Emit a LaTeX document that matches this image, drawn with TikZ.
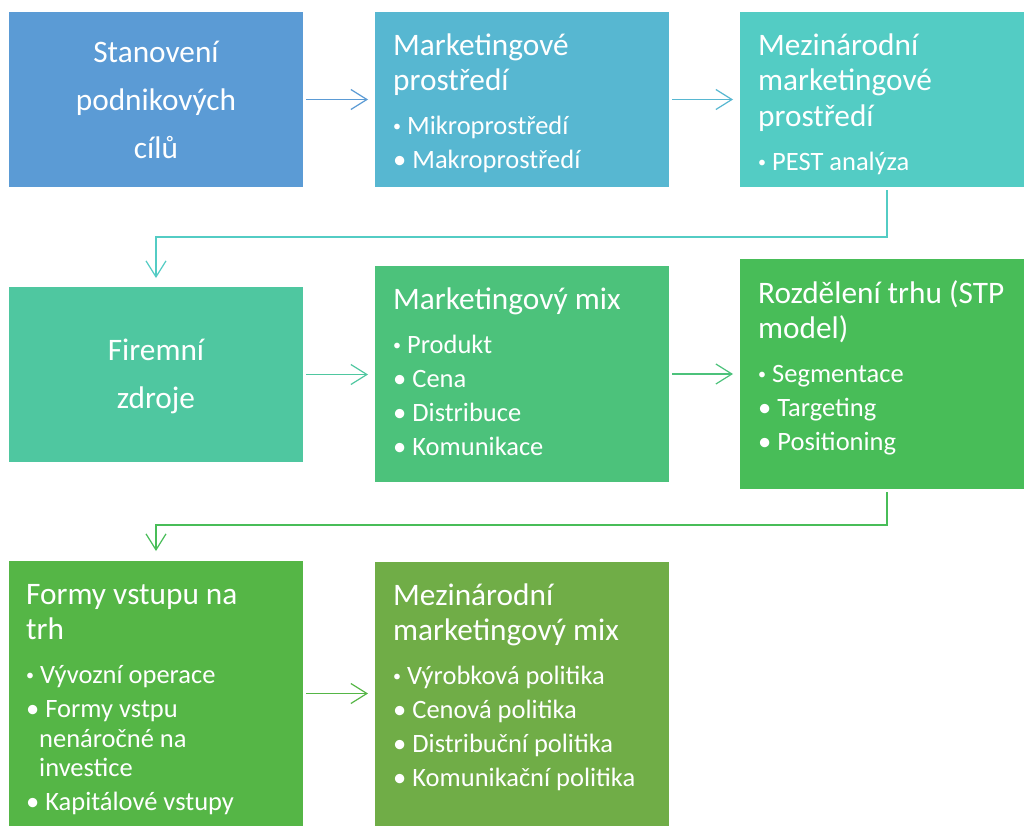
\documentclass[tikz,border=0pt]{standalone}
\usepackage{fontspec}
\setmainfont{Carlito}
\usetikzlibrary{arrows.meta,calc}
\definecolor{c1}{RGB}{91,155,213}
\definecolor{c2}{RGB}{87,183,209}
\definecolor{c3}{RGB}{83,204,196}
\definecolor{c4}{RGB}{79,199,160}
\definecolor{c5}{RGB}{76,194,123}
\definecolor{c6}{RGB}{72,189,88}
\definecolor{c7}{RGB}{85,182,70}
\definecolor{c8}{RGB}{112,173,71}
\newcommand\ttlfont{\fontsize{31.3}{35.5}\selectfont}
\newcommand\ctrfont{\fontsize{31.3}{48}\selectfont}
\newcommand\itemlist{\par\vspace{10pt}\fontsize{26.5}{29.5}\selectfont\setlength{\parskip}{4.5pt}}
\newcommand\firstitem[1]{\par\hangindent=13pt\hangafter=1 \raisebox{3pt}{\fontsize{16}{16}\selectfont •}\ #1\par}
\newcommand\nextitem[1]{\par\hangindent=13pt\hangafter=1 •\ #1\par}
\tikzset{
  box/.style={anchor=north west, inner sep=0pt, outer sep=0pt, minimum width=294pt},
  lefttext/.style={anchor=base west, inner sep=0pt, text width=290pt, align=left, text=white, font=\ttlfont,
    execute at begin node={\spaceskip=0pt\xspaceskip=0pt}},
  centertext/.style={anchor=base, inner sep=0pt, text width=280pt, align=center, text=white, font=\ctrfont,
    execute at begin node={\spaceskip=0pt\xspaceskip=0pt}},
  flow/.style={line width=1.2pt, -{Straight Barb[length=16pt,width=20pt]}},
}
\begin{document}
\begin{tikzpicture}[x=1pt,y=-1pt]
\clip (0,0) rectangle (1024,827);
\fill[white] (0,0) rectangle (1024,827);
% boxes
\node[box, fill=c1, minimum height=175pt] (b1) at (9,12) {};
\node[box, fill=c2, minimum height=175pt] (b2) at (375,12) {};
\node[box, fill=c3, minimum height=175pt] (b3) at (740,12) {};
\node[box, fill=c4, minimum height=175pt] (b4) at (9,287) {};
\node[box, fill=c5, minimum height=216pt] (b5) at (375,266) {};
\node[box, fill=c6, minimum height=230pt] (b6) at (740,259) {};
\node[box, fill=c7, minimum height=265pt] (b7) at (9,561) {};
\node[box, fill=c8, minimum height=264pt] (b8) at (375,562) {};
% texts
\node[centertext] (t1) at ($(b1.north)+(0,50)$) {Stanovení\\podnikových\\cílů};
\node[lefttext] (t2) at ($(b2.north west)+(18,43)$) {Marketingové\\prostředí\itemlist\firstitem{Mikroprostředí}\nextitem{Makroprostředí}};
\node[lefttext] (t3) at ($(b3.north west)+(18,43)$) {Mezinárodní\\marketingové\\prostředí\itemlist\firstitem{PEST analýza}};
\node[centertext] (t4) at ($(b4.north)+(0,73)$) {Firemní\\zdroje};
\node[lefttext] (t5) at ($(b5.north west)+(18,43)$) {Marketingový mix\itemlist\firstitem{Produkt}\nextitem{Cena}\nextitem{Distribuce}\nextitem{Komunikace}};
\node[lefttext] (t6) at ($(b6.north west)+(18,44)$) {Rozdělení trhu (STP\\model)\itemlist\firstitem{Segmentace}\nextitem{Targeting}\nextitem{Positioning}};
\node[lefttext] (t7) at ($(b7.north west)+(17,43)$) {Formy vstupu na\\trh\itemlist\firstitem{Vývozní operace}\nextitem{Formy vstpu\hfil\break nenáročné na\hfil\break investice}\nextitem{Kapitálové vstupy}};
\node[lefttext] (t8) at ($(b8.north west)+(18,43)$) {Mezinárodní\\marketingový mix\itemlist\firstitem{Výrobková politika}\nextitem{Cenová politika}\nextitem{Distribuční politika}\nextitem{Komunikační politika}};
% connectors
\draw[flow, draw=c1] ([xshift=3pt]b1.east) -- ([xshift=-7pt]b2.west);
\draw[flow, draw=c2] ([xshift=3pt]b2.east) -- ([xshift=-7pt]b3.west);
\draw[flow, draw=c3] ([yshift=-3pt]b3.south) -- ++(0,47) -| ([yshift=9pt]b4.north);
\draw[flow, draw=c4] ([xshift=3pt]b4.east) -- ([xshift=-7pt]b5.west |- b4.east);
\draw[flow, draw=c5] ([xshift=3pt]b5.east) -- ([xshift=-7pt]b6.west |- b5.east);
\draw[flow, draw=c6] ([yshift=-3pt]b6.south) -- ++(0,33) -| ([yshift=10pt]b7.north);
\draw[flow, draw=c7] ([xshift=3pt]b7.east) -- ([xshift=-7pt]b8.west |- b7.east);
\end{tikzpicture}
\end{document}
